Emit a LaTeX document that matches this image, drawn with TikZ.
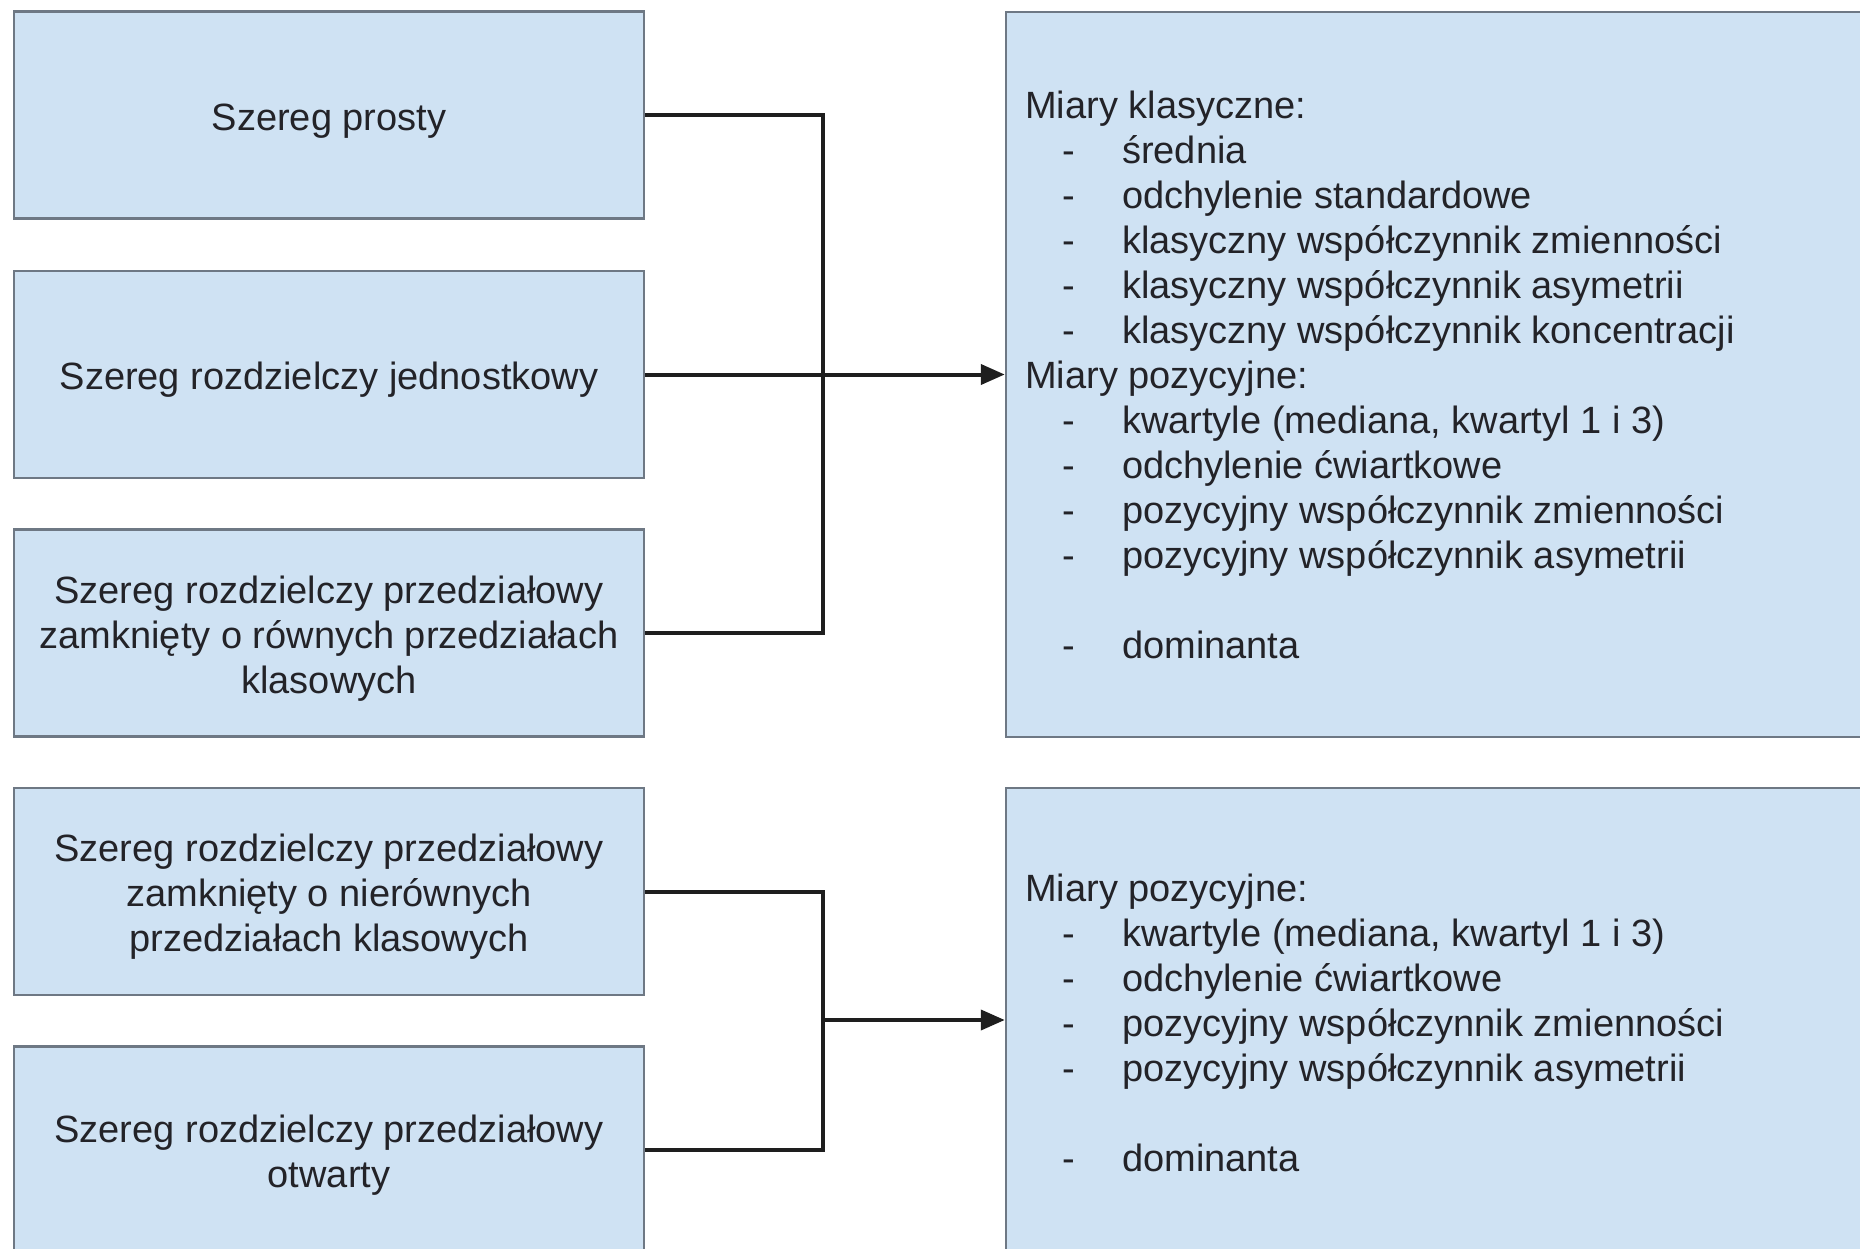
\documentclass[tikz,border=0pt]{standalone}
\usepackage{fontspec}
\setmainfont{Liberation Sans}
\usetikzlibrary{arrows.meta}
\definecolor{boxfill}{RGB}{207,226,243}
\definecolor{boxline}{RGB}{110,120,132}
\definecolor{conncol}{RGB}{30,30,30}
\definecolor{textcol}{RGB}{35,35,40}
\newcommand\dashitem[1]{\hspace*{37pt}\makebox[60pt][l]{-}#1}
\newcommand\toppad{\rule{0pt}{38pt}}
\begin{document}
\begin{tikzpicture}[x=1pt,y=-1pt,
  srcbox/.style={draw=boxline, line width=2.5pt, fill=boxfill, minimum width=630pt, minimum height=207pt, inner sep=0pt, align=center, font=\fontsize{38}{45}\selectfont, text=textcol},
  dstbox/.style={draw=boxline, line width=2.5pt, fill=boxfill, inner sep=0pt, minimum width=874pt},
  listtext/.style={anchor=north west, inner sep=0pt, align=left, font=\fontsize{38}{45}\selectfont, text=textcol},
  conn/.style={draw=conncol, line width=4pt},
  arr/.style={conn, -{Triangle[length=24pt,width=20pt]}}]
\useasboundingbox (0,0) rectangle (1860,1249);
% source boxes
\node[srcbox] (b1) at (329,115) {\toppad Szereg prosty};
\node[srcbox] (b2) at (329,374.5) {\toppad Szereg rozdzielczy jednostkowy};
\node[srcbox] (b3) at (329,633) {\toppad Szereg rozdzielczy przedziałowy\\zamknięty o równych przedziałach\\klasowych};
\node[srcbox] (b4) at (329,891.5) {\toppad Szereg rozdzielczy przedziałowy\\zamknięty o nierównych\\przedziałach klasowych};
\node[srcbox] (b5) at (329,1150) {\toppad Szereg rozdzielczy przedziałowy\\otwarty};
% destination boxes
\node[dstbox, minimum height=725pt] (r1) at (1443,374.5) {};
\node[dstbox, minimum height=464pt] (r2) at (1443,1020) {};
\node[listtext] (t1) at (1025,91) {Miary klasyczne:\\
\dashitem{średnia}\\
\dashitem{odchylenie standardowe}\\
\dashitem{klasyczny współczynnik zmienności}\\
\dashitem{klasyczny współczynnik asymetrii}\\
\dashitem{klasyczny współczynnik koncentracji}\\
Miary pozycyjne:\\
\dashitem{kwartyle (mediana, kwartyl 1 i 3)}\\
\dashitem{odchylenie ćwiartkowe}\\
\dashitem{pozycyjny współczynnik zmienności}\\
\dashitem{pozycyjny współczynnik asymetrii}\\[45pt]
\dashitem{dominanta}};
\node[listtext] (t2) at (1025,874) {Miary pozycyjne:\\
\dashitem{kwartyle (mediana, kwartyl 1 i 3)}\\
\dashitem{odchylenie ćwiartkowe}\\
\dashitem{pozycyjny współczynnik zmienności}\\
\dashitem{pozycyjny współczynnik asymetrii}\\[45pt]
\dashitem{dominanta}};
% connectors
\coordinate (j1) at (823,374.5);
\coordinate (j2) at (823,1020);
\draw[conn] (b1.east) -| (j1) |- (b3.east);
\draw[arr] (b2.east) -- (r1.west);
\draw[conn] (b4.east) -| (j2) |- (b5.east);
\draw[arr] (j2) -- (r2.west);
\end{tikzpicture}
\end{document}
